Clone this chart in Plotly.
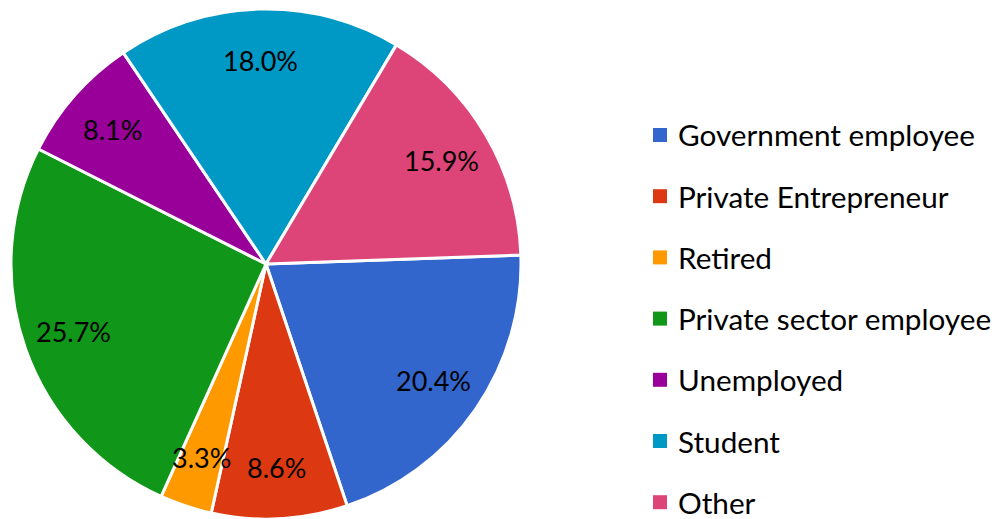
import math
import plotly.graph_objects as go

categories = ["Government employee", "Private Entrepreneur", "Retired",
              "Private sector employee", "Unemployed", "Student", "Other"]
shares = [20.4, 8.6, 3.3, 25.7, 8.1, 18.0, 15.9]
colors = ["#3366CC", "#DC3912", "#FF9900", "#109618", "#990099", "#0099C6", "#DD4477"]

W, H = 1001, 519
FONT = "Lato"
ROT = 88

# pie geometry (figure pixels)
CX, CY, R = 266, 264, 255

fig = go.Figure(go.Pie(
    labels=categories,
    values=shares,
    sort=False,
    direction="clockwise",
    rotation=ROT,
    marker=dict(colors=colors, line=dict(color="white", width=3)),
    textinfo="none",
    showlegend=False,
    hoverinfo="label+percent",
    domain=dict(x=[(CX - R) / W, (CX + R) / W], y=[1 - (CY + R) / H, 1 - (CY - R) / H]),
))

annotations = []
shapes = []

# percentage labels, placed on each slice's bisector
total = sum(shares)
cum = 0.0
LAB_R = 0.8 * R
for v in shares:
    mid = ROT + (cum + v / 2) / total * 360.0
    cum += v
    a = math.radians(mid)
    px = CX + LAB_R * math.sin(a)
    py = CY - LAB_R * math.cos(a)
    annotations.append(dict(xref="paper", yref="paper", x=px / W, y=1 - py / H,
                            xanchor="center", yanchor="middle", showarrow=False,
                            text=f"{v / total * 100:.1f}%",
                            font=dict(family=FONT, size=27, color="black")))

# custom legend (square swatch + label)
legend_x0 = 653
text_x = 676
legend_y0 = 135
legend_dy = 61.2
sq = 14
for i, (name, col) in enumerate(zip(categories, colors)):
    cy = legend_y0 + i * legend_dy
    shapes.append(dict(type="rect", xref="paper", yref="paper",
                       x0=legend_x0 / W, x1=(legend_x0 + sq) / W,
                       y0=1 - (cy + sq / 2) / H, y1=1 - (cy - sq / 2) / H,
                       fillcolor=col, line=dict(width=0)))
    annotations.append(dict(xref="paper", yref="paper", x=text_x / W, y=1 - cy / H,
                            xanchor="left", yanchor="middle", showarrow=False,
                            text=name, font=dict(family=FONT, size=29.7, color="black")))

fig.update_layout(
    width=W, height=H,
    margin=dict(l=0, r=0, t=0, b=0),
    paper_bgcolor="white",
    plot_bgcolor="white",
    shapes=shapes,
    annotations=annotations,
)

fig.write_html("out.html",
               config={"displayModeBar": False},
               post_script="document.body.style.margin='0';document.body.style.overflow='hidden';")
